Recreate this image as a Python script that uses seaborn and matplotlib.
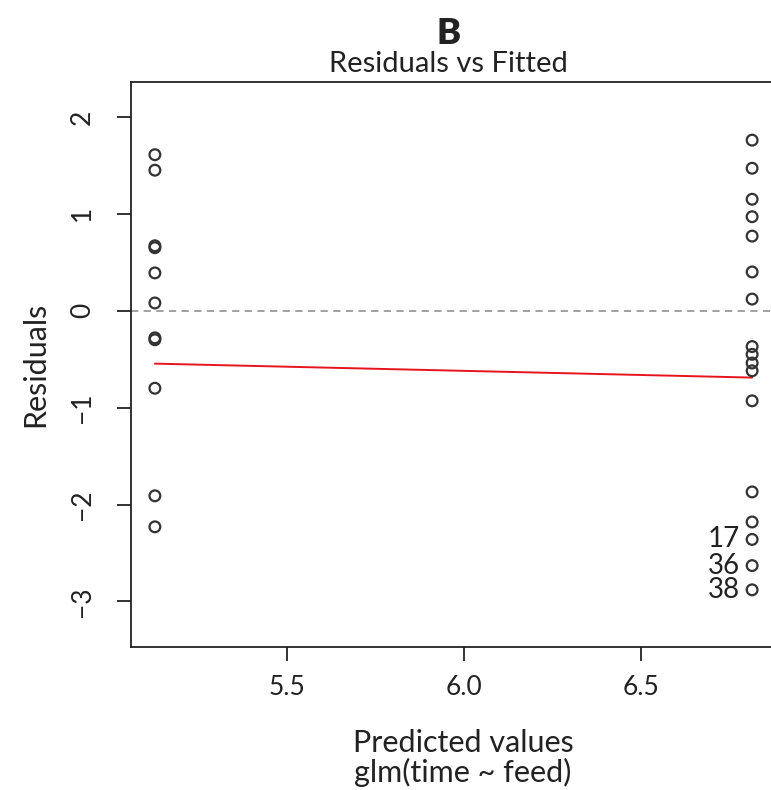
import matplotlib
matplotlib.use("Agg")
import matplotlib.pyplot as plt
import seaborn as sns
import pandas as pd

# Fitted values of the two feed groups and their residuals
fitted_low = 5.127
fitted_high = 6.814
residuals_low = [1.61, 1.45, 0.67, 0.65, 0.39, 0.08, -0.28, -0.30, -0.80, -1.91, -2.23]
residuals_high = [1.76, 1.47, 1.15, 0.97, 0.77, 0.40, 0.12, -0.37, -0.45, -0.54,
                  -0.62, -0.93, -1.87, -2.18, -2.36, -2.63, -2.88]

# Smoothed residual trend (lowess) at the two fitted values
smooth_x = [fitted_low, fitted_high]
smooth_y = [-0.546, -0.69]

# Observations with the largest residuals
flagged_ids = ["17", "36", "38"]
flagged_resid = [-2.36, -2.63, -2.88]

x_ticks = [5.5, 6.0, 6.5]
y_ticks = [-3, -2, -1, 0, 1, 2]

df = pd.DataFrame({
    "fitted": [fitted_low] * len(residuals_low) + [fitted_high] * len(residuals_high),
    "resid": residuals_low + residuals_high,
})

sns.set_theme(style="white")
plt.rcParams["font.family"] = ["Lato", "DejaVu Sans"]
ink = "#222222"

fig = plt.figure(figsize=(7.71, 7.90), dpi=100)
ax = fig.add_axes([131 / 771, 1 - 647 / 790, 645 / 771, 565 / 790])

ax.axhline(0, color="#9a9a9a", lw=1.3, ls=(0, (4, 3)), zorder=1)
sns.lineplot(x=smooth_x, y=smooth_y, ax=ax, color="#e8141c", lw=1.4, zorder=2)
sns.scatterplot(data=df, x="fitted", y="resid", ax=ax, marker="o", s=60,
                facecolor="none", edgecolor="#333333", linewidth=1.6, zorder=3)

for lab, r in zip(flagged_ids, flagged_resid):
    ax.annotate(lab, xy=(fitted_high, r), xytext=(-9, 0), textcoords="offset points",
                ha="right", va="center", fontsize=20, color=ink)

span = fitted_high - fitted_low
ax.set_xlim(fitted_low - 0.04 * span, fitted_high + 0.04 * span)
ax.set_ylim(-3.47, 2.36)
ax.set_xticks(x_ticks)
ax.set_xticklabels([f"{v:.1f}" for v in x_ticks])
ax.set_yticks(y_ticks)
ax.set_yticklabels([str(v).replace("-", "\u2212") for v in y_ticks], rotation=90, va="center")
ax.tick_params(axis="both", direction="out", length=10, width=1.3, color=ink,
               labelsize=19, labelcolor=ink)
ax.tick_params(axis="x", pad=10, bottom=True)
ax.tick_params(axis="y", pad=16, left=True)
ax.set_xlabel("")
ax.set_ylabel("")

for side in ["left", "bottom", "top", "right"]:
    ax.spines[side].set_color(ink)
    ax.spines[side].set_linewidth(1.3)

fig.text(35 / 771, 1 - 364 / 790, "Residuals", rotation=90, ha="center", va="center",
         fontsize=22, color=ink)
fig.text(463 / 771, 1 - 743 / 790, "Predicted values", ha="center", va="center",
         fontsize=22, color=ink)
fig.text(463 / 771, 1 - 772 / 790, "glm(time ~ feed)", ha="center", va="center",
         fontsize=22, color=ink)
fig.text(449 / 771, 1 - 33 / 790, "B", ha="center", va="center",
         fontsize=26, fontweight="heavy", color=ink)
fig.text(448 / 771, 1 - 64 / 790, "Residuals vs Fitted", ha="center", va="center",
         fontsize=21, color=ink)

fig.savefig("out.png", dpi=100)
